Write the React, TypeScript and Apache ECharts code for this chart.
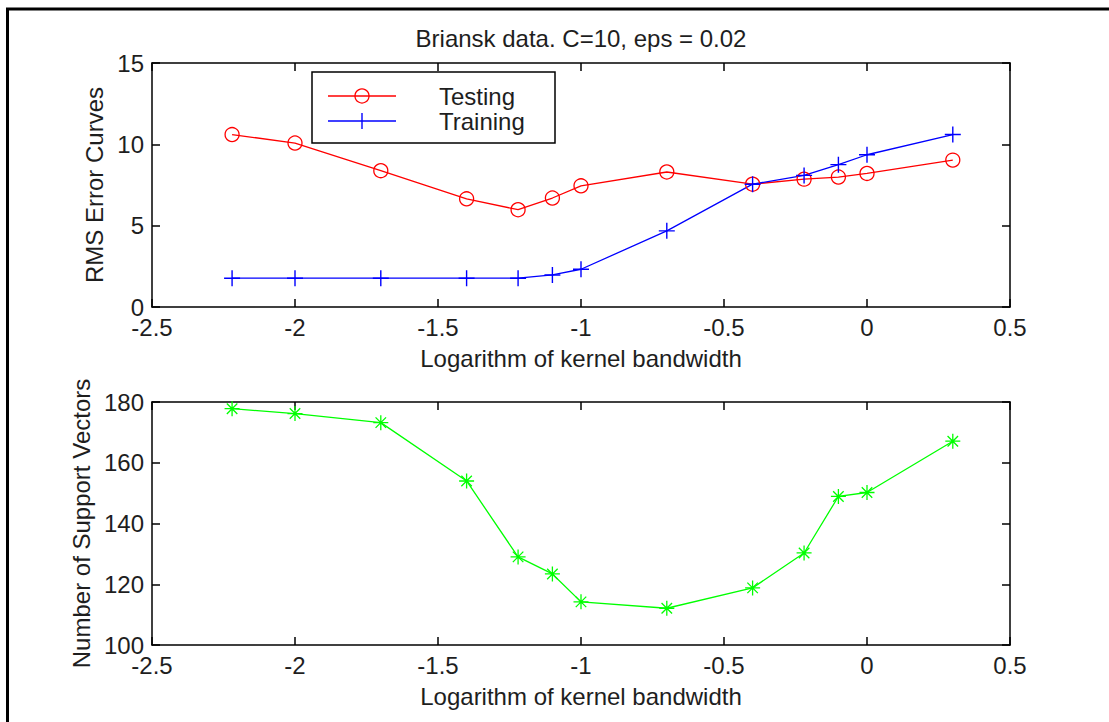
import React, { useEffect, useRef } from "react";
import * as echarts from "echarts";

// log10 of kernel bandwidth
const bandwidthLog = [-2.22, -2, -1.7, -1.4, -1.22, -1.1, -1, -0.7, -0.4, -0.22, -0.1, 0, 0.3];
const testingRms = [10.6, 10.08, 8.38, 6.65, 5.98, 6.7, 7.45, 8.3, 7.55, 7.86, 7.99, 8.21, 9.03];
const trainingRms = [1.77, 1.77, 1.77, 1.77, 1.77, 1.97, 2.32, 4.68, 7.55, 8.09, 8.75, 9.36, 10.6];
const supportVectors = [177.8, 176.2, 173.2, 154.0, 129.0, 123.4, 114.2, 112.1, 118.8, 130.3, 148.9, 150.2, 167.1];

const titleText = "Briansk data. C=10, eps = 0.02";
const xName = "Logarithm of kernel bandwidth";
const yNameTop = "RMS Error Curves";
const yNameBottom = "Number of Support Vectors";
const legendNames = ["Testing", "Training"];

const FONT = '"Liberation Sans", Arial, Helvetica, sans-serif';
const TXT = "#1e1e1e";
const FS = 24;

const PLUS = "path://M10,0 L10,20 M0,10 L20,10";
const STAR = "path://M10,0 L10,20 M0,10 L20,10 M3,3 L17,17 M3,17 L17,3";

function pairs(xs: number[], ys: number[]) {
  return xs.map((x, i) => [x, ys[i]]);
}

export default function App() {
  const ref = useRef<HTMLDivElement>(null);
  useEffect(() => {
    if (!ref.current) return;
    const chart = echarts.init(ref.current, undefined, { renderer: "svg" });

    const axisLine = { show: true, onZero: false, lineStyle: { color: "#000", width: 1.5 } };
    const tick = { show: true, inside: true, length: 8, lineStyle: { color: "#000", width: 1.5 } };
    const xLabel = { show: true, color: TXT, fontSize: FS, fontFamily: FONT, lineHeight: 18, margin: 11 };
    const yLabel = { show: true, color: TXT, fontSize: FS, fontFamily: FONT, lineHeight: 18, margin: 8 };

    const xMain = (gi: number) => ({
      type: "value",
      gridIndex: gi,
      position: "bottom",
      min: -2.5,
      max: 0.5,
      interval: 0.5,
      name: xName,
      nameLocation: "middle",
      nameGap: 39,
      nameTextStyle: { color: TXT, fontSize: FS, fontFamily: FONT },
      axisLine,
      axisTick: tick,
      axisLabel: xLabel,
      splitLine: { show: false },
    });
    const xMirror = (gi: number) => ({
      type: "value",
      gridIndex: gi,
      position: "top",
      min: -2.5,
      max: 0.5,
      interval: 0.5,
      axisLine,
      axisTick: tick,
      axisLabel: { show: false },
      splitLine: { show: false },
    });
    const yMain = (gi: number, min: number, max: number, interval: number, name: string, gap: number) => ({
      type: "value",
      gridIndex: gi,
      position: "left",
      min,
      max,
      interval,
      name,
      nameLocation: "middle",
      nameGap: gap,
      nameTextStyle: { color: TXT, fontSize: FS, fontFamily: FONT },
      axisLine,
      axisTick: tick,
      axisLabel: yLabel,
      splitLine: { show: false },
    });
    const yMirror = (gi: number, min: number, max: number, interval: number) => ({
      type: "value",
      gridIndex: gi,
      position: "right",
      min,
      max,
      interval,
      axisLine,
      axisTick: tick,
      axisLabel: { show: false },
      splitLine: { show: false },
    });

    const lx = 312, ly = 72;
    chart.setOption({
      animation: false,
      backgroundColor: "#fff",
      grid: [
        { left: 152, top: 63, width: 858, height: 244 },
        { left: 152, top: 402, width: 858, height: 243 },
      ],
      xAxis: [xMain(0), xMirror(0), xMain(1), xMirror(1)],
      yAxis: [
        yMain(0, 0, 15, 5, yNameTop, 42),
        yMirror(0, 0, 15, 5),
        yMain(1, 100, 180, 20, yNameBottom, 56),
        yMirror(1, 100, 180, 20),
      ],
      series: [
        {
          name: legendNames[0],
          type: "line",
          xAxisIndex: 0,
          yAxisIndex: 0,
          data: pairs(bandwidthLog, testingRms),
          symbol: "circle",
          symbolSize: 14,
          itemStyle: { color: "rgba(0,0,0,0)", borderColor: "#ff0000", borderWidth: 1.3 },
          lineStyle: { color: "#ff0000", width: 1.3 },
        },
        {
          name: legendNames[1],
          type: "line",
          xAxisIndex: 0,
          yAxisIndex: 0,
          data: pairs(bandwidthLog, trainingRms),
          symbol: PLUS,
          symbolSize: 16,
          itemStyle: { color: "#0000ff", borderColor: "#0000ff", borderWidth: 1.4 },
          lineStyle: { color: "#0000ff", width: 1.3 },
        },
        {
          name: "Support Vectors",
          type: "line",
          xAxisIndex: 2,
          yAxisIndex: 2,
          data: pairs(bandwidthLog, supportVectors),
          symbol: STAR,
          symbolSize: 15,
          itemStyle: { color: "#00ff00", borderColor: "#00ff00", borderWidth: 1.3 },
          lineStyle: { color: "#00ff00", width: 1.3 },
        },
      ],
      graphic: [
        // figure frame (top and left edges)
        { type: "line", shape: { x1: 6, y1: 9, x2: 1109, y2: 9 }, style: { stroke: "#000", lineWidth: 3 } },
        { type: "line", shape: { x1: 7.5, y1: 8, x2: 7.5, y2: 722 }, style: { stroke: "#000", lineWidth: 3 } },
        {
          type: "text",
          x: 581,
          y: 38,
          style: { text: titleText, font: `${FS}px ${FONT}`, fill: TXT, textAlign: "center", textVerticalAlign: "middle" },
        },
        {
          type: "group",
          x: lx,
          y: ly,
          z: 100,
          children: [
            { type: "rect", shape: { x: 0, y: 0, width: 243, height: 71 }, style: { fill: "#fff", stroke: "#000", lineWidth: 1.5 } },
            { type: "line", shape: { x1: 16, y1: 24, x2: 84, y2: 24 }, style: { stroke: "#ff0000", lineWidth: 1.3 } },
            { type: "circle", shape: { cx: 50, cy: 24, r: 7 }, style: { fill: "none", stroke: "#ff0000", lineWidth: 1.3 } },
            { type: "line", shape: { x1: 16, y1: 49, x2: 84, y2: 49 }, style: { stroke: "#0000ff", lineWidth: 1.3 } },
            { type: "line", shape: { x1: 50, y1: 41, x2: 50, y2: 57 }, style: { stroke: "#0000ff", lineWidth: 1.4 } },
            {
              type: "text",
              x: 127,
              y: 24,
              style: { text: legendNames[0], font: `${FS}px ${FONT}`, fill: TXT, textVerticalAlign: "middle" },
            },
            {
              type: "text",
              x: 127,
              y: 49,
              style: { text: legendNames[1], font: `${FS}px ${FONT}`, fill: TXT, textVerticalAlign: "middle" },
            },
          ],
        },
      ],
    });
    return () => chart.dispose();
  }, []);

  return (
    <div
      ref={ref}
      style={{ position: "absolute", left: 0, top: 0, width: 1109, height: 722, background: "#fff" }}
    />
  );
}
